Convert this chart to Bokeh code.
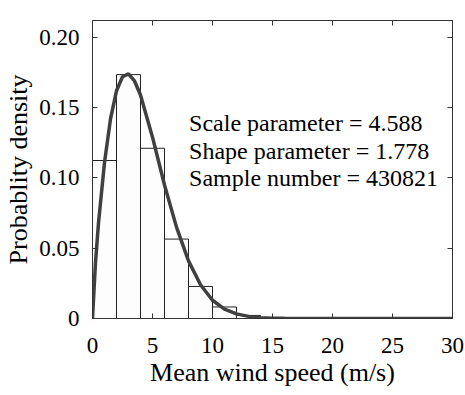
from bokeh.plotting import figure
from bokeh.models import Range1d, LinearAxis, FixedTicker, ColumnDataSource, CustomLabelingPolicy
from bokeh.core.properties import value
from bokeh.embed import file_html
from bokeh.resources import INLINE

# Histogram (bin width 2 m/s)
bin_left = [0, 2, 4, 6, 8, 10, 12, 14]
bin_right = [2, 4, 6, 8, 10, 12, 14, 16]
bin_density = [0.1124, 0.1735, 0.1211, 0.0565, 0.0228, 0.0082, 0.0022, 0.0003]

# Fitted curve
curve_x = [0, 0.25, 0.5, 1, 1.5, 2, 2.5, 3, 3.5, 4, 5, 6, 7, 8, 9, 10, 11, 12, 13,
           14, 15, 16, 18, 20, 25, 30]
curve_y = [0, 0.040, 0.068, 0.111, 0.142, 0.162, 0.172, 0.174, 0.169, 0.159, 0.129,
           0.095, 0.065, 0.041, 0.024, 0.013, 0.0067, 0.0033, 0.0015, 0.0006, 0.00026,
           0.0001, 0.00001, 0, 0, 0]

x_ticks = [0, 5, 10, 15, 20, 25, 30]
y_ticks = [0, 0.05, 0.10, 0.15, 0.20]
y_tick_labels = ["0", "0.05", "0.10", "0.15", "0.20"]

ann_lines = ["Scale parameter = 4.588", "Shape parameter = 1.778", "Sample number = 430821"]
ann_x = [8.05, 8.05, 8.05]
ann_y = [0.1388, 0.1195, 0.1000]

FONT = "'Liberation Serif', 'Times New Roman', serif"
AX = "#333333"

p = figure(width=465, height=395, output_backend="svg", toolbar_location=None,
           x_range=Range1d(0, 30), y_range=Range1d(0, 0.212),
           min_border_left=92, min_border_right=13, min_border_top=20, min_border_bottom=77,
           background_fill_color="white", border_fill_color="white")
p.xaxis.visible = False
p.yaxis.visible = False
p.grid.visible = False
p.outline_line_color = AX
p.outline_line_width = 1

src = ColumnDataSource(dict(left=bin_left, right=bin_right, top=bin_density))
p.quad(left="left", right="right", bottom=0, top="top", source=src,
       fill_color="#fdfdfd", line_color="#222222", line_width=1)
p.line(curve_x, curve_y, line_color="#404040", line_width=3.5)

p.text(x=ann_x, y=ann_y, text=ann_lines, text_font=value(FONT), text_font_size="24px",
       text_baseline="middle", text_align="left", text_color="black")

def style(ax, labels=True):
    ax.major_tick_in = 5
    ax.major_tick_out = 0
    ax.minor_tick_line_color = None
    ax.axis_line_color = AX
    ax.major_tick_line_color = AX
    ax.major_label_text_font = FONT
    ax.major_label_text_color = "black"
    ax.axis_label_text_font = FONT
    ax.axis_label_text_font_style = "normal"
    ax.axis_label_text_color = "black"
    ax.major_label_text_font_size = "23px"
    ax.axis_label_text_font_size = "26px"
    if not labels:
        ax.major_label_standoff = 0
        ax.major_label_policy = CustomLabelingPolicy(
            code="for (const i of indices) indices.unset(i); return indices")

xb = LinearAxis(ticker=FixedTicker(ticks=x_ticks), axis_label="Mean wind speed (m/s)")
style(xb)
xb.major_label_standoff = 19
xb.axis_label_standoff = 2
p.add_layout(xb, "below")

yl = LinearAxis(ticker=FixedTicker(ticks=y_ticks), axis_label="Probablity density")
style(yl)
yl.major_label_overrides = {t: l for t, l in zip(y_ticks, y_tick_labels)}
yl.major_label_standoff = 13
yl.axis_label_standoff = 3
p.add_layout(yl, "left")

xt = LinearAxis(ticker=FixedTicker(ticks=x_ticks))
style(xt, labels=False)
xt.major_label_overrides = {t: "" for t in x_ticks}
p.add_layout(xt, "above")

yr = LinearAxis(ticker=FixedTicker(ticks=y_ticks))
style(yr, labels=False)
yr.major_label_overrides = {t: "" for t in y_ticks}
p.add_layout(yr, "right")

open("out.html", "w").write(file_html(p, INLINE))
